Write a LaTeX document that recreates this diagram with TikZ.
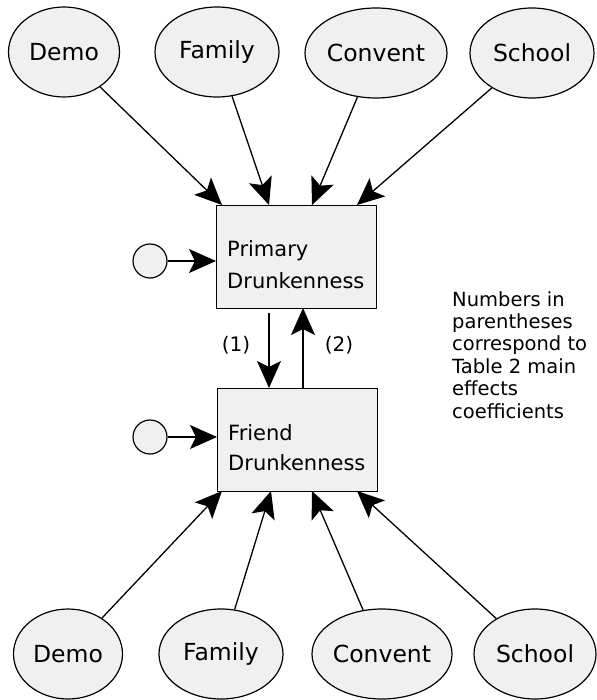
\documentclass[tikz,border=0pt]{standalone}
\usepackage{fontspec}
\setmainfont{DejaVu Sans}
\usetikzlibrary{arrows.meta,shapes.geometric}
\definecolor{boxfill}{HTML}{F0F0F0}
\begin{document}
\begin{tikzpicture}[x=1pt,y=-1pt,
  ell/.style={ellipse,draw,line width=1.2pt,fill=boxfill,minimum height=90pt,inner sep=0pt,font=\fontsize{23.5}{26}\selectfont},
  var/.style={rectangle,draw,line width=1.2pt,fill=boxfill,minimum width=160pt,minimum height=103pt,inner sep=0pt},
  vtxt/.style={anchor=base west,inner sep=0pt,font=\fontsize{21}{24}\selectfont},
  err/.style={circle,draw,line width=1.2pt,fill=boxfill,minimum size=34pt,inner sep=0pt},
  arr/.style={line width=1.3pt,-{Stealth[length=27pt,width=24pt,inset=6pt]}},
  lab/.style={font=\fontsize{20}{22}\selectfont}
]
\useasboundingbox (0,0) rectangle (596,700);
% top exogenous
\node[ell,minimum width=111pt] (d1) at (64,52) {Demo};
\node[ell,minimum width=124pt] (f1) at (217,52) {Family};
\node[ell,minimum width=142pt] (c1) at (376,53) {Convent};
\node[ell,minimum width=124pt] (s1) at (532,53) {School};
% bottom exogenous
\node[ell,minimum width=109pt] (d2) at (68,654) {Demo};
\node[ell,minimum width=124pt] (f2) at (221,654) {Family};
\node[ell,minimum width=140pt] (c2) at (382,654) {Convent};
\node[ell,minimum width=122pt] (s2) at (535,654) {School};
% main boxes
\node[var,anchor=north west] (p) at (216,205) {};
\node[var,anchor=north west] (fr) at (217,388) {};
\node[vtxt] (p1) at (227,257) {Primary};
\node[vtxt] (p2) at (227,288) {Drunkenness};
\node[vtxt] (q1) at (228,440) {Friend};
\node[vtxt] (q2) at (228,470) {Drunkenness};
% error terms
\node[err] (e1) at (150,261) {};
\node[err] (e2) at (150,437) {};
% targets
\coordinate (t1) at (222,205);
\coordinate (t2) at (269,205);
\coordinate (t3) at (312,205);
\coordinate (t4) at (357,205);
\coordinate (b1) at (222,491);
\coordinate (b2) at (271,491);
\coordinate (b3) at (312,491);
\coordinate (b4) at (357,491);
\coordinate (a1s) at (269,313);
\coordinate (a1e) at (269,388);
\coordinate (a2s) at (303,388);
\coordinate (a2e) at (303,308);
\coordinate (e1t) at (216,261);
\coordinate (e2t) at (217,437);
% arrows
\draw[arr] (d1) -- (t1);
\draw[arr] (f1) -- (t2);
\draw[arr] (c1) -- (t3);
\draw[arr] (s1) -- (t4);
\draw[arr] (d2) -- (b1);
\draw[arr] (f2) -- (b2);
\draw[arr] (c2) -- (b3);
\draw[arr] (s2) -- (b4);
\draw[arr] (a1s) -- (a1e);
\draw[arr] (a2s) -- (a2e);
\draw[arr] (e1) -- (e1t);
\draw[arr] (e2) -- (e2t);
% labels
\node[lab] (l1) at (236,345) {(1)};
\node[lab] (l2) at (339,345) {(2)};
\node[anchor=north west,align=left,font=\fontsize{19.5}{22.4}\selectfont,inner sep=0pt] (note) at (452,291)
 {Numbers in\\parentheses\\correspond to\\Table 2 main\\effects\\coefficients};
\end{tikzpicture}
\end{document}
